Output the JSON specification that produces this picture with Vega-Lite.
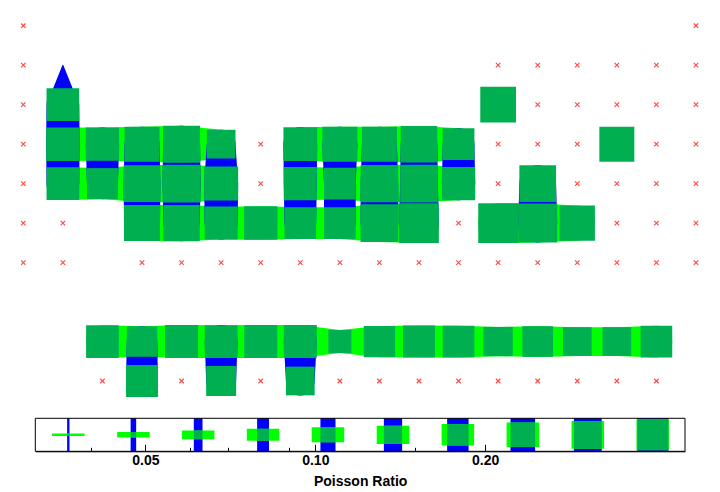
{
  "$schema": "https://vega.github.io/schema/vega-lite/v6.json",
  "width": 720,
  "height": 492,
  "autosize": {"type": "none"},
  "padding": 0,
  "config": {"view": {"stroke": null}, "font": "Liberation Sans"},
  "datasets": {
    "cells": [
      {"col": 1, "row": 1, "nu": 0.03, "h": "r1a", "v": "c1a"},
      {"col": 1, "row": 2, "nu": 0.457, "h": "r2a", "v": "c1a"},
      {"col": 12, "row": 2, "nu": 0.587, "h": "r2b", "v": "c12a"},
      {"col": 1, "row": 3, "nu": 0.488, "h": "r3a", "v": "c1a"},
      {"col": 2, "row": 3, "nu": 0.48, "h": "r3a", "v": "c2a"},
      {"col": 3, "row": 3, "nu": 0.553, "h": "r3a", "v": "c3a"},
      {"col": 4, "row": 3, "nu": 0.654, "h": "r3a", "v": "c4a"},
      {"col": 5, "row": 3, "nu": 0.328, "h": "r3a", "v": "c5a"},
      {"col": 7, "row": 3, "nu": 0.497, "h": "r3b", "v": "c7a"},
      {"col": 8, "row": 3, "nu": 0.553, "h": "r3b", "v": "c8a"},
      {"col": 9, "row": 3, "nu": 0.553, "h": "r3b", "v": "c9a"},
      {"col": 10, "row": 3, "nu": 0.627, "h": "r3b", "v": "c10a"},
      {"col": 11, "row": 3, "nu": 0.42, "h": "r3b", "v": "c11a"},
      {"col": 15, "row": 3, "nu": 0.553, "h": "r3c", "v": "c15a"},
      {"col": 1, "row": 4, "nu": 0.457, "h": "r4a", "v": "c1a"},
      {"col": 2, "row": 4, "nu": 0.397, "h": "r4a", "v": "c2a"},
      {"col": 3, "row": 4, "nu": 0.638, "h": "r4a", "v": "c3a"},
      {"col": 4, "row": 4, "nu": 0.71, "h": "r4a", "v": "c4a"},
      {"col": 5, "row": 4, "nu": 0.509, "h": "r4a", "v": "c5a"},
      {"col": 7, "row": 4, "nu": 0.469, "h": "r4b", "v": "c7a"},
      {"col": 8, "row": 4, "nu": 0.42, "h": "r4b", "v": "c8a"},
      {"col": 9, "row": 4, "nu": 0.681, "h": "r4b", "v": "c9a"},
      {"col": 10, "row": 4, "nu": 0.693, "h": "r4b", "v": "c10a"},
      {"col": 11, "row": 4, "nu": 0.48, "h": "r4b", "v": "c11a"},
      {"col": 13, "row": 4, "nu": 0.638, "h": "r4c", "v": "c13a"},
      {"col": 3, "row": 5, "nu": 0.602, "h": "r5a", "v": "c3a"},
      {"col": 4, "row": 5, "nu": 0.617, "h": "r5a", "v": "c4a"},
      {"col": 5, "row": 5, "nu": 0.469, "h": "r5a", "v": "c5a"},
      {"col": 6, "row": 5, "nu": 0.488, "h": "r5a", "v": "c6a"},
      {"col": 7, "row": 5, "nu": 0.42, "h": "r5a", "v": "c7a"},
      {"col": 8, "row": 5, "nu": 0.42, "h": "r5a", "v": "c8a"},
      {"col": 9, "row": 5, "nu": 0.693, "h": "r5a", "v": "c9a"},
      {"col": 10, "row": 5, "nu": 0.819, "h": "r5a", "v": "c10a"},
      {"col": 12, "row": 5, "nu": 0.825, "h": "r5b", "v": "c12b"},
      {"col": 13, "row": 5, "nu": 0.772, "h": "r5b", "v": "c13a"},
      {"col": 14, "row": 5, "nu": 0.567, "h": "r5b", "v": "c14a"},
      {"col": 2, "row": 8, "nu": 0.457, "h": "r8a", "v": "c2b"},
      {"col": 3, "row": 8, "nu": 0.38, "h": "r8a", "v": "c3b"},
      {"col": 4, "row": 8, "nu": 0.469, "h": "r8a", "v": "c4b"},
      {"col": 5, "row": 8, "nu": 0.461, "h": "r8a", "v": "c5b"},
      {"col": 6, "row": 8, "nu": 0.469, "h": "r8a", "v": "c6b"},
      {"col": 7, "row": 8, "nu": 0.469, "h": "r8a", "v": "c7b"},
      {"col": 8, "row": 8, "nu": 0.204, "h": "r8a", "v": "c8b"},
      {"col": 9, "row": 8, "nu": 0.407, "h": "r8a", "v": "c9b"},
      {"col": 10, "row": 8, "nu": 0.431, "h": "r8a", "v": "c10b"},
      {"col": 11, "row": 8, "nu": 0.42, "h": "r8a", "v": "c11b"},
      {"col": 12, "row": 8, "nu": 0.344, "h": "r8a", "v": "c12c"},
      {"col": 13, "row": 8, "nu": 0.387, "h": "r8a", "v": "c13b"},
      {"col": 14, "row": 8, "nu": 0.328, "h": "r8a", "v": "c14b"},
      {"col": 15, "row": 8, "nu": 0.328, "h": "r8a", "v": "c15b"},
      {"col": 16, "row": 8, "nu": 0.42, "h": "r8a", "v": "c16b"},
      {"col": 3, "row": 9, "nu": 0.431, "h": "r9a", "v": "c3b"},
      {"col": 5, "row": 9, "nu": 0.365, "h": "r9b", "v": "c5b"},
      {"col": 7, "row": 9, "nu": 0.328, "h": "r9c", "v": "c7b"}
    ],
    "empty": [
      {"col": 0, "row": 0}, {"col": 17, "row": 0},
      {"col": 0, "row": 1}, {"col": 12, "row": 1}, {"col": 13, "row": 1}, {"col": 14, "row": 1}, {"col": 15, "row": 1}, {"col": 16, "row": 1}, {"col": 17, "row": 1},
      {"col": 0, "row": 2}, {"col": 13, "row": 2}, {"col": 14, "row": 2}, {"col": 15, "row": 2}, {"col": 16, "row": 2}, {"col": 17, "row": 2},
      {"col": 0, "row": 3}, {"col": 6, "row": 3}, {"col": 12, "row": 3}, {"col": 13, "row": 3}, {"col": 14, "row": 3}, {"col": 16, "row": 3}, {"col": 17, "row": 3},
      {"col": 0, "row": 4}, {"col": 6, "row": 4}, {"col": 12, "row": 4}, {"col": 14, "row": 4}, {"col": 15, "row": 4}, {"col": 16, "row": 4}, {"col": 17, "row": 4},
      {"col": 0, "row": 5}, {"col": 1, "row": 5}, {"col": 11, "row": 5}, {"col": 15, "row": 5}, {"col": 16, "row": 5}, {"col": 17, "row": 5},
      {"col": 0, "row": 6}, {"col": 1, "row": 6}, {"col": 3, "row": 6}, {"col": 4, "row": 6}, {"col": 5, "row": 6}, {"col": 6, "row": 6}, {"col": 7, "row": 6}, {"col": 8, "row": 6}, {"col": 9, "row": 6}, {"col": 10, "row": 6}, {"col": 11, "row": 6}, {"col": 12, "row": 6}, {"col": 13, "row": 6}, {"col": 14, "row": 6}, {"col": 15, "row": 6}, {"col": 16, "row": 6}, {"col": 17, "row": 6},
      {"col": 2, "row": 9}, {"col": 4, "row": 9}, {"col": 6, "row": 9}, {"col": 8, "row": 9}, {"col": 9, "row": 9}, {"col": 10, "row": 9}, {"col": 11, "row": 9}, {"col": 12, "row": 9}, {"col": 13, "row": 9}, {"col": 14, "row": 9}, {"col": 15, "row": 9}, {"col": 16, "row": 9}
    ],
    "legend": [
      {"v": 0.0365}, {"v": 0.0476}, {"v": 0.062}, {"v": 0.0808}, {"v": 0.1053},
      {"v": 0.1373}, {"v": 0.1789}, {"v": 0.2332}, {"v": 0.304}, {"v": 0.3963}
    ]
  },
  "layer": [
    {
      "layer": [
        {
          "data": {"name": "cells"},
          "mark": {"type": "trail", "color": "#00ff00", "fill": "#00ff00"},
          "encoding": {
            "x": {"field": "col", "type": "quantitative", "scale": {"domain": [-0.589, 17.607], "zero": false, "nice": false}, "axis": null},
            "y": {"field": "row", "type": "quantitative", "scale": {"domain": [-0.651, 11.811], "reverse": true, "zero": false, "nice": false}, "axis": null},
            "detail": {"field": "h"},
            "order": {"field": "col", "type": "quantitative"},
            "size": {"field": "nu", "type": "quantitative", "scale": {"type": "log", "domain": [0.03, 0.4], "range": [0, 31.1]}, "legend": null}
          }
        },
        {
          "data": {"name": "cells"},
          "mark": {"type": "trail", "color": "#0000ff", "fill": "#0000ff"},
          "encoding": {
            "x": {"field": "col", "type": "quantitative"},
            "y": {"field": "row", "type": "quantitative"},
            "detail": {"field": "v"},
            "order": {"field": "row", "type": "quantitative"},
            "size": {"field": "nu", "type": "quantitative", "legend": null}
          }
        },
        {
          "data": {"name": "cells"},
          "mark": {"type": "rule", "color": "#00b050", "strokeCap": "square"},
          "encoding": {
            "x": {"field": "col", "type": "quantitative"},
            "x2": {"field": "col"},
            "y": {"field": "row", "type": "quantitative"},
            "strokeWidth": {"field": "nu", "type": "quantitative", "scale": {"type": "log", "domain": [0.03, 0.4], "range": [0, 31.1]}, "legend": null}
          }
        },
        {
          "data": {"name": "empty"},
          "mark": {"type": "point", "shape": "M-1,-1L1,1M1,-1L-1,1", "filled": false, "color": "#ff3838", "strokeWidth": 1.2, "size": 20, "opacity": 0.9},
          "encoding": {
            "x": {"field": "col", "type": "quantitative"},
            "y": {"field": "row", "type": "quantitative"}
          }
        }
      ]
    },
    {
      "data": {"name": "legend"},
      "layer": [
        {
          "mark": {"type": "rule", "color": "#0000ff"},
          "encoding": {
            "x": {
              "field": "v", "type": "quantitative",
              "scale": {"type": "log", "domain": [0.0319, 0.452], "range": [35.3, 685], "nice": false},
              "axis": {
                "orient": "bottom",
                "offset": -40.7,
                "values": [0.04, 0.05, 0.06, 0.07, 0.08, 0.09, 0.1, 0.15, 0.2, 0.3, 0.4],
                "labelExpr": "(datum.value == 0.05 || datum.value == 0.1 || datum.value == 0.2) ? format(datum.value, '.2f') : ''",
                "tickSize": {"condition": {"test": "datum.value == 0.05 || datum.value == 0.1 || datum.value == 0.2", "value": -7}, "value": -4},
                "tickColor": "black",
                "tickWidth": 1,
                "domainColor": "black",
                "domainWidth": 1,
                "labelFont": "Liberation Sans",
                "labelFontWeight": "bold",
                "labelFontSize": 14,
                "labelColor": "black",
                "labelPadding": 9,
                "labelFlush": false,
                "labelOverlap": false,
                "grid": false,
                "title": "Poisson Ratio",
                "titleFont": "Liberation Sans",
                "titleFontSize": 14,
                "titleFontWeight": "bold",
                "titleColor": "black",
                "titlePadding": 4
              }
            },
            "y": {"datum": 0, "type": "quantitative", "scale": {"domain": [0, 1], "range": [418.3, 451.3], "zero": false, "nice": false}, "axis": null},
            "y2": {"datum": 1},
            "strokeWidth": {"field": "v", "type": "quantitative", "legend": null}
          }
        },
        {
          "mark": {"type": "rule", "color": "#00ff00", "xOffset": -16.25, "x2Offset": 16.25},
          "encoding": {
            "x": {"field": "v", "type": "quantitative"},
            "x2": {"field": "v"},
            "y": {"datum": 0.5, "type": "quantitative"},
            "strokeWidth": {"field": "v", "type": "quantitative", "legend": null}
          }
        },
        {
          "mark": {"type": "rule", "color": "#00b050", "strokeCap": "square"},
          "encoding": {
            "x": {"field": "v", "type": "quantitative"},
            "x2": {"field": "v"},
            "y": {"datum": 0.5, "type": "quantitative"},
            "strokeWidth": {"field": "v", "type": "quantitative", "legend": null}
          }
        },
        {
          "data": {"values": [{}]},
          "mark": {"type": "rect", "filled": false, "color": "black", "strokeWidth": 1},
          "encoding": {
            "x": {"datum": 0.0319, "type": "quantitative"},
            "x2": {"datum": 0.452},
            "y": {"datum": 0, "type": "quantitative"},
            "y2": {"datum": 1}
          }
        }
      ]
    }
  ],
  "resolve": {"scale": {"x": "independent", "y": "independent"}}
}
